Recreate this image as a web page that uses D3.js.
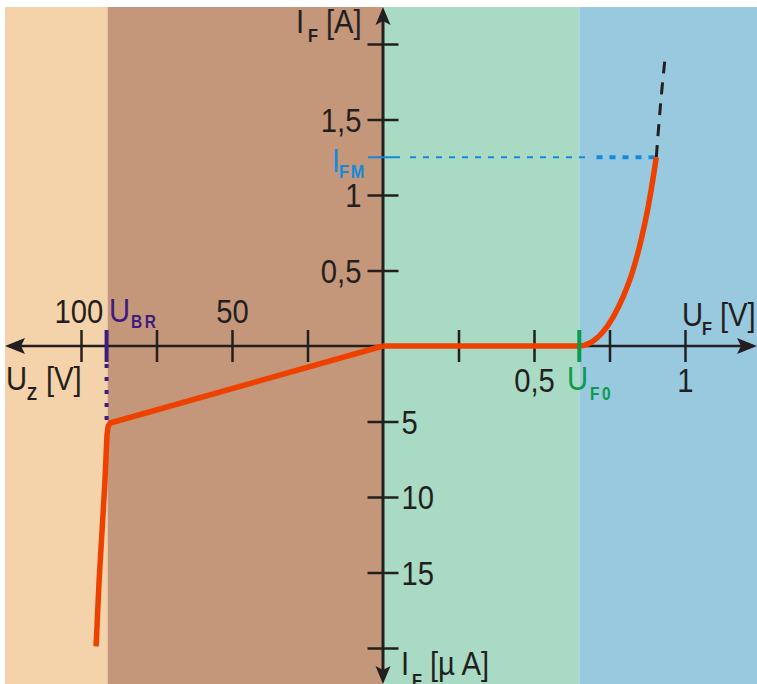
<!DOCTYPE html>
<html>
<head>
<meta charset="utf-8">
<script src="https://cdn.jsdelivr.net/npm/d3@7"></script>
<style>
  body { margin: 0; background: #fff; }
  svg { display: block; }
  text { font-family: 'Liberation Sans', Arial, sans-serif; fill: #231f20; }
</style>
</head>
<body>
<script>
// diode characteristic: forward branch in V / A, reverse branch in V / µA

// forward branch (U_F [V], I_F [A])
var fwdU = [0, 0.65, 0.685, 0.728, 0.762, 0.795, 0.828, 0.855, 0.878, 0.895, 0.905];
var fwdI = [0, 0, 0.02, 0.093, 0.192, 0.325, 0.503, 0.705, 0.921, 1.119, 1.25];
// dashed continuation above I_FM
var extU = [0.905, 0.919, 0.934];
var extI = [1.25, 1.6, 1.907];
// reverse branch (U_Z [V], I_F [µA])
var revU = [0, 90.3, 91.0, 91.4, 92.1, 94.0, 95.0];
var revI = [0, 5.1, 5.3, 5.9, 9.1, 15.5, 19.9];

var UF0 = 0.65, UBR = 91.2, IFM = 1.25;

var tickAmps = [0.5, 1, 1.5, 2];
var tickMicro = [5, 10, 15, 20];
var tickFwdV = [0.25, 0.5, 0.75, 1];
var tickRevV = [25, 50, 75, 100];
var labelAmps = [0.5, 1, 1.5];
var labelMicro = [5, 10, 15];
var labelFwdV = [0.5, 1];
var labelRevV = [50, 100];

var W = 757, H = 684;
var x0 = 383, y0 = 346;
var sx = 0.86;   // horizontal squeeze, the original uses a condensed face

var svg = d3.select("body").append("svg")
    .attr("width", W)
    .attr("height", H);

// scales (four quadrants share the origin)
var xF = d3.scaleLinear().domain([0, 1]).range([x0, 685]);
var xZ = d3.scaleLinear().domain([0, 100]).range([x0, 81]);
var yA = d3.scaleLinear().domain([0, 2]).range([y0, 44]);
var yU = d3.scaleLinear().domain([0, 20]).range([y0, 648]);

var de = d3.formatLocale({decimal: ",", thousands: ".", grouping: [3], currency: ["", ""]});
var fmt = de.format("~g");

// background bands
var bandTop = 7, bandBottom = H;
var bands = [
  {x1: 5, x2: xZ(UBR), c: "#f5d3aa"},
  {x1: xZ(UBR), x2: x0, c: "#c4977a"},
  {x1: x0, x2: xF(UF0), c: "#a8dac4"},
  {x1: xF(UF0), x2: W, c: "#98c9df"}
];
svg.append("g").selectAll("rect")
    .data(bands)
  .enter().append("rect")
    .attr("x", function(d) { return d.x1; })
    .attr("y", bandTop)
    .attr("width", function(d) { return d.x2 - d.x1; })
    .attr("height", bandBottom - bandTop)
    .style("fill", function(d) { return d.c; });

var ink = "#231f20";

// axis lines
svg.append("line").attr("x1", x0).attr("x2", x0).attr("y1", 20).attr("y2", 670)
    .style("stroke", ink).style("stroke-width", 3);
svg.append("line").attr("x1", 20).attr("x2", 742).attr("y1", y0).attr("y2", y0)
    .style("stroke", ink).style("stroke-width", 2.5);

// arrow heads
var arrows = [
  "M383,7 L390.5,25 L383,21 L375.5,25 Z",
  "M383,684 L390.5,666 L383,670 L375.5,666 Z",
  "M5,346 L25,338 L21,346 L25,354 Z",
  "M757,346 L737,338 L741,346 L737,354 Z"
];
svg.append("g").selectAll("path").data(arrows)
  .enter().append("path").attr("d", function(d) { return d; }).style("fill", ink);

// axes via d3.axis, ticks made to cross the axis line
function styleAxis(g, fs) {
  g.select(".domain").remove();
  g.selectAll(".tick line").style("stroke", ink).style("stroke-width", 2.5);
  g.selectAll(".tick text").style("font-size", fs + "px").style("fill", ink)
    .style("font-family", "'Liberation Sans', Arial, sans-serif")
    .each(function() {
      var t = d3.select(this), x = +t.attr("x") || 0;
      t.attr("x", x / sx).attr("transform", "scale(" + sx + ",1)");
    });
}

var gA = svg.append("g").attr("transform", "translate(" + x0 + ",0)")
    .call(d3.axisLeft(yA).tickValues(tickAmps).tickSize(15.5).tickPadding(6)
      .tickFormat(function(d) { return labelAmps.indexOf(d) >= 0 ? fmt(d) : ""; }));
styleAxis(gA, 34);
gA.selectAll(".tick line").attr("x1", 15.5);
gA.selectAll(".tick text").attr("dy", "0.35em");

var gU = svg.append("g").attr("transform", "translate(" + x0 + ",0)")
    .call(d3.axisRight(yU).tickValues(tickMicro).tickSize(15.5).tickPadding(3)
      .tickFormat(function(d) { return labelMicro.indexOf(d) >= 0 ? fmt(d) : ""; }));
styleAxis(gU, 34);
gU.selectAll(".tick line").attr("x1", -15.5);
gU.selectAll(".tick text").attr("dy", "0.35em");

var gF = svg.append("g").attr("transform", "translate(0," + y0 + ")")
    .call(d3.axisBottom(xF).tickValues(tickFwdV).tickSize(16).tickPadding(6)
      .tickFormat(function(d) { return labelFwdV.indexOf(d) >= 0 ? fmt(d) : ""; }));
styleAxis(gF, 34);
gF.selectAll(".tick line").attr("y1", -16);

var gZ = svg.append("g").attr("transform", "translate(0," + y0 + ")")
    .call(d3.axisTop(xZ).tickValues(tickRevV).tickSize(16).tickPadding(7)
      .tickFormat(function(d) { return labelRevV.indexOf(d) >= 0 ? fmt(d) : ""; }));
styleAxis(gZ, 34);
gZ.selectAll(".tick line").attr("y1", 16);
gZ.selectAll(".tick text").attr("dx", function(d) { return d === 100 ? -3 : 0; });

// I_FM guide line
var blue = "#1589dd";
svg.append("line").attr("x1", x0 - 15).attr("x2", x0 + 17)
    .attr("y1", yA(IFM)).attr("y2", yA(IFM))
    .style("stroke", blue).style("stroke-width", 2);
svg.append("line").attr("x1", x0 + 27).attr("x2", xF(0.69))
    .attr("y1", yA(IFM)).attr("y2", yA(IFM))
    .style("stroke", blue).style("stroke-width", 2).style("stroke-dasharray", "6,7");
svg.append("line").attr("x1", xF(0.707)).attr("x2", xF(0.905))
    .attr("y1", yA(IFM)).attr("y2", yA(IFM))
    .style("stroke", blue).style("stroke-width", 4).style("stroke-dasharray", "6,7");

// curves
var red = "#ee4100";
var fwdLine = d3.line()
    .x(function(d) { return xF(d[0]); })
    .y(function(d) { return yA(d[1]); })
    .curve(d3.curveMonotoneX);
var revLine = d3.line()
    .x(function(d) { return xZ(d[0]); })
    .y(function(d) { return yU(d[1]); });

svg.append("path")
    .attr("d", fwdLine(d3.zip(extU, extI)))
    .style("fill", "none").style("stroke", ink).style("stroke-width", 3)
    .style("stroke-dasharray", "12,9");

svg.append("path")
    .attr("d", fwdLine(d3.zip(fwdU, fwdI)))
    .style("fill", "none").style("stroke", red).style("stroke-width", 5.5);

svg.append("path")
    .attr("d", revLine(d3.zip(revU, revI)))
    .style("fill", "none").style("stroke", red).style("stroke-width", 5.5)
    .style("stroke-linejoin", "round");

// U_BR marker with dotted drop line
var purple = "#3d1c7c";
svg.append("line").attr("x1", xZ(UBR) - 1).attr("x2", xZ(UBR) - 1)
    .attr("y1", y0 + 18).attr("y2", yU(5.1) - 2)
    .style("stroke", purple).style("stroke-width", 4).style("stroke-dasharray", "4,9");
svg.append("line").attr("x1", xZ(UBR) - 1).attr("x2", xZ(UBR) - 1)
    .attr("y1", y0 - 16).attr("y2", y0 + 16)
    .style("stroke", purple).style("stroke-width", 4);

// U_F0 marker
var green = "#0c9a4c";
svg.append("line").attr("x1", xF(UF0)).attr("x2", xF(UF0))
    .attr("y1", y0 - 16).attr("y2", y0 + 16)
    .style("stroke", green).style("stroke-width", 4);

// symbol labels: main letter, subscript, unit
function label(parts, color) {
  var t = svg.append("text").style("fill", color || ink)
      .attr("transform", "scale(" + sx + ",1)");
  parts.forEach(function(p) {
    t.append("tspan")
      .attr("x", p.x / sx).attr("y", p.y)
      .style("font-size", p.s + "px")
      .style("font-weight", p.b ? "bold" : "normal")
      .style("letter-spacing", (p.ls || 0) + "px")
      .style("fill", color || ink)
      .text(p.t);
  });
}

label([{t: "I", x: 296, y: 33, s: 34}, {t: "F", x: 308, y: 42, s: 19, b: 1}, {t: "[A]", x: 326, y: 33, s: 34}]);
label([{t: "I", x: 401, y: 675, s: 34}, {t: "F", x: 412, y: 687, s: 19, b: 1}, {t: "[µ A]", x: 430, y: 675, s: 34}]);
label([{t: "U", x: 682, y: 326, s: 34}, {t: "F", x: 702, y: 335, s: 19, b: 1}, {t: "[V]", x: 720, y: 326, s: 34}]);
label([{t: "U", x: 6, y: 390, s: 34}, {t: "Z", x: 27, y: 400, s: 19, b: 1}, {t: "[V]", x: 46, y: 390, s: 34}]);
label([{t: "U", x: 109, y: 322, s: 34}, {t: "BR", x: 131, y: 328, s: 18, b: 1, ls: 3}], purple);
label([{t: "U", x: 567, y: 390, s: 34}, {t: "F0", x: 590, y: 400, s: 18, b: 1, ls: 3}], green);
label([{t: "I", x: 332, y: 172, s: 33}, {t: "FM", x: 339, y: 178, s: 19, b: 1, ls: 2}], blue);
</script>
</body>
</html>
